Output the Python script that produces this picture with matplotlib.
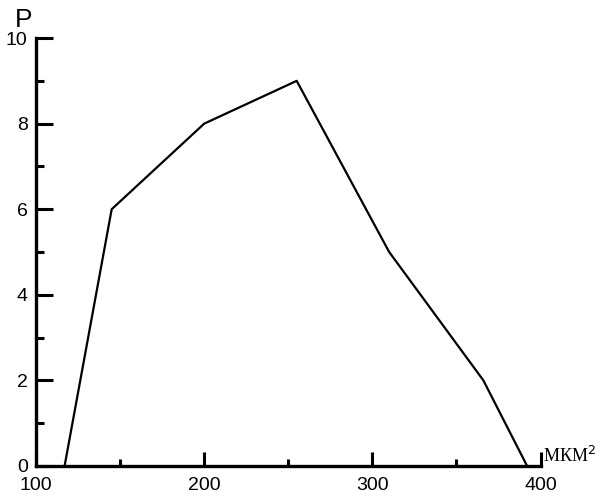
import matplotlib
matplotlib.use("Agg")
import matplotlib.pyplot as plt
from matplotlib.ticker import MultipleLocator

# area (мкм^2) vs P
area = [117, 145, 200, 255, 310, 366, 392]
p = [0, 6, 8, 9, 5, 2, 0]
xticks = [100, 200, 300, 400]
yticks = [0, 2, 4, 6, 8, 10]

plt.rcParams['font.family'] = ['Liberation Sans', 'DejaVu Sans']

fig = plt.figure(figsize=(6.05, 4.97), dpi=100)
ax = fig.add_axes([0.0595, 0.0624, 0.834, 0.861])

ax.plot(area, p, color='black', lw=1.6)

ax.set_xlim(100, 400)
ax.set_ylim(0, 10)
ax.set_xticks(xticks)
ax.set_yticks(yticks)
ax.xaxis.set_minor_locator(MultipleLocator(50))
ax.yaxis.set_minor_locator(MultipleLocator(1))

for s in ['top', 'right']:
    ax.spines[s].set_visible(False)
for s in ['left', 'bottom']:
    ax.spines[s].set_linewidth(2.4)

ax.tick_params(axis='y', which='major', direction='in', length=12, width=2.2,
               labelsize=14, pad=6)
ax.tick_params(axis='y', which='minor', direction='in', length=6, width=2.2)
ax.tick_params(axis='x', which='major', direction='in', length=10, width=2.2,
               labelsize=14, pad=8)
ax.tick_params(axis='x', which='minor', direction='in', length=5, width=2.2)

ax.text(-0.025, 1.015, 'P', transform=ax.transAxes, fontsize=19,
        ha='center', va='bottom')
ax.text(1.005, 0.0, 'МКМ$^2$', transform=ax.transAxes, fontsize=13,
        family=['Liberation Serif', 'DejaVu Serif'], ha='left', va='bottom')

fig.savefig('out.png', dpi=100)
